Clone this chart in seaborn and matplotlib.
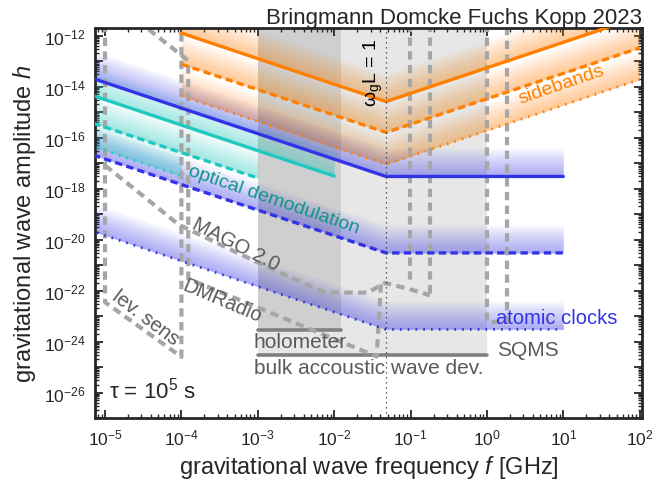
import numpy as np
import matplotlib
matplotlib.use("Agg")
import matplotlib.pyplot as plt
import matplotlib.ticker as mticker
import seaborn as sns

# === Data (f in GHz, h dimensionless) ===
f_c = 0.0477  # omega_g L = 1

# sidebands (orange): solid / dashed / dotted
side_f = [1e-4, f_c, 100]
side_solid = [1.26e-12, 2.6e-15, 5.5e-12]
side_dashed = [7.6e-14, 1.6e-16, 3.3e-13]
side_dotted = [4.3e-15, 8.9e-18, 1.9e-14]

# atomic clocks (blue)
clock_f = [5e-6, f_c, 10]
clock_solid = [2.9e-14, 3.0e-18, 3.0e-18]
clock_dashed = [2.9e-17, 3.0e-21, 3.0e-21]
clock_dotted = [2.9e-20, 3.0e-24, 3.0e-24]

# optical demodulation (cyan)
opt_solid_f = [5e-6, 1e-2]
opt_solid = [6.2e-15, 3.1e-18]
opt_dashed_f = [5e-6, 1e-3]
opt_dashed = [5.1e-16, 2.6e-18]
opt_dotted_f = [5e-6, 1e-4]
opt_dotted = [6.2e-17, 3.1e-18]

# other experiments (grey dashed)
lev_f = [1e-5, 1e-5, 1e-4, 1e-4]
lev_h = [1e-11, 3.5e-23, 2.5e-25, 1e-11]
dmr_f = [2.7e-5, 1.23e-4, 1.23e-4, 0.036, 0.041]
dmr_h = [3.8e-12, 1.05e-13, 2.9e-22, 2.6e-25, 1.9e-22]
mago_f = [1e-5, 1.1e-5, 9.3e-5, 1.26e-3, 7.6e-3, 0.0275, 0.046, 0.091, 0.18]
mago_h = [7.9e-18, 6.5e-18, 3.8e-20, 9.1e-22, 8.3e-23, 8.3e-23, 2.0e-22, 1.2e-22, 6.5e-23]
hf1_f = [0.098, 0.098]
hf1_h = [1e-11, 1.6e-22]
hf2_f = [0.18, 0.18]
hf2_h = [1e-11, 6.5e-23]
sqms_f = [1.0, 1.0, 1.82, 1.82]
sqms_h = [1e-11, 5.9e-24, 5.9e-24, 1e-11]

# holometer / bulk acoustic wave devices
holo_f = [1e-3, 0.0123]
holo_h = 2.9e-24
bulk_f = [1e-3, 1.0]
bulk_h = 2.9e-25

ylo, yhi = 2e-27, 2e-12
xlo, xhi = 7.4e-6, 1.07e2

# === Style ===
sns.set_style("ticks")
plt.rcParams['font.family'] = ['Liberation Sans', 'DejaVu Sans']
plt.rcParams['mathtext.fontset'] = 'custom'
plt.rcParams['mathtext.rm'] = 'Liberation Sans'
plt.rcParams['mathtext.it'] = 'Liberation Sans:italic'
plt.rcParams['mathtext.default'] = 'regular'

orange = '#ff7f00'
blue = '#3232e6'
cyan = '#1fc9c1'
teal = '#0f958a'
grey = '#a6a6a6'
gtext = '#5a5a5a'

fig = plt.figure(figsize=(6.53, 4.89), dpi=100)
ax = fig.add_axes([0.1455, 0.1431, 0.8376, 0.7976])
ax.set_xscale('log')
ax.set_yscale('log')


def shade(f, h, color, depth=1.1, n=12, alpha=0.04):
    f = np.asarray(f, dtype=float)
    h = np.asarray(h, dtype=float)
    for k in range(1, n + 1):
        ax.fill_between(f, h, h * 10 ** (depth * k / n), color=color,
                        alpha=alpha, lw=0, zorder=1)


def line(f, h, color, ls='-', lw=2.4, z=3):
    sns.lineplot(x=f, y=h, color=color, lw=lw, ls=ls, estimator=None,
                 sort=False, ax=ax, zorder=z)


# grey shaded regions
ax.fill_between(holo_f, holo_h, yhi * 10, color='#8c8c8c', alpha=0.28, lw=0, zorder=0)
ax.fill_between(bulk_f, bulk_h, yhi * 10, color='#a0a0a0', alpha=0.25, lw=0, zorder=0)
ax.plot(holo_f, [holo_h] * 2, color='#808080', lw=2.6, zorder=2)
ax.plot(bulk_f, [bulk_h] * 2, color='#808080', lw=2.6, zorder=2)

# grey dashed experiments
gd = (0, (2.0, 1.3))
for fx, hy in [(lev_f, lev_h), (dmr_f, dmr_h), (mago_f, mago_h),
               (hf1_f, hf1_h), (hf2_f, hf2_h), (sqms_f, sqms_h)]:
    line(fx, hy, grey, ls=gd, lw=3.0, z=2)

# shading bands
for h in (side_solid, side_dashed, side_dotted):
    shade(side_f, h, orange)
for h in (clock_solid, clock_dashed, clock_dotted):
    shade(clock_f, h, blue)
shade(opt_solid_f, opt_solid, cyan)
shade(opt_dashed_f, opt_dashed, cyan)
shade(opt_dotted_f, opt_dotted, cyan)

dash = (0, (2.2, 1.3))
dot = (0, (0.6, 2.2))
line(side_f, side_solid, orange)
line(side_f, side_dashed, orange, ls=dash)
line(side_f, side_dotted, orange, ls=dot, lw=2.0)
line(opt_solid_f, opt_solid, cyan)
line(opt_dashed_f, opt_dashed, cyan, ls=dash)
line(opt_dotted_f, opt_dotted, cyan, ls=dot, lw=2.0)
line(clock_f, clock_solid, blue)
line(clock_f, clock_dashed, blue, ls=dash)
line(clock_f, clock_dotted, blue, ls=dot, lw=2.0)

# omega_g L = 1
ax.axvline(f_c, color='#333333', lw=0.9, ls=(0, (1, 3)), zorder=4)

# labels
ax.text(10 ** 0.97, 10 ** -13.92, 'sidebands', color=orange, fontsize=14,
        rotation=19, ha='center', va='center', zorder=5)
ax.text(10 ** -2.79, 10 ** -18.42, 'optical demodulation', color=teal, fontsize=14,
        rotation=-19, ha='center', va='center', zorder=5)
ax.text(10 ** -3.29, 10 ** -20.15, 'MAGO 2.0', color=gtext, fontsize=14.5,
        rotation=-27, ha='center', va='center', zorder=5)
ax.text(10 ** -3.47, 10 ** -22.38, 'DMRadio', color=gtext, fontsize=14.5,
        rotation=-23, ha='center', va='center', zorder=5)
ax.text(10 ** -4.47, 10 ** -23.04, 'lev. sens', color=gtext, fontsize=14.5,
        rotation=-37, ha='center', va='center', zorder=5)
ax.text(10 ** -3.05, 10 ** -24.0, 'holometer', color=gtext, fontsize=15,
        ha='left', va='center', zorder=5)
ax.text(10 ** -3.05, 10 ** -25.0, 'bulk accoustic wave dev.', color=gtext, fontsize=15,
        ha='left', va='center', zorder=5)
ax.text(10 ** 0.13, 10 ** -24.31, 'SQMS', color=gtext, fontsize=15,
        ha='left', va='center', zorder=5)
ax.text(10 ** 0.12, 10 ** -23.04, 'atomic clocks', color=blue, fontsize=14.5,
        ha='left', va='center', zorder=5)
ax.text(10 ** -1.49, 10 ** -13.42, r'$\omega_g$L = 1', color='black', fontsize=14,
        rotation=90, ha='center', va='center', zorder=5)
ax.text(0.025, 0.04, r'$\tau$ = 10$^5$ s', transform=ax.transAxes, fontsize=16,
        ha='left', va='bottom', zorder=5)

ax.set_title('Bringmann Domcke Fuchs Kopp 2023', loc='right', fontsize=16, pad=2)
ax.set_xlabel('gravitational wave frequency $\\mathit{f}$ [GHz]', fontsize=17, labelpad=4)
ax.set_ylabel('gravitational wave amplitude $\\mathit{h}$', fontsize=17, labelpad=4)

ax.set_xlim(xlo, xhi)
ax.set_ylim(ylo, yhi)

# ticks
xt = [10.0 ** e for e in range(-5, 3)]
ax.set_xticks(xt)
ax.set_xticklabels([f'$10^{{{e}}}$' for e in range(-5, 3)], fontsize=12.5)
yt = [10.0 ** e for e in range(-27, -11)]
ax.set_yticks(yt)
ax.set_yticklabels([f'$10^{{{e}}}$' if e % 2 == 0 else '' for e in range(-27, -11)],
                   fontsize=12.5)
ax.xaxis.set_minor_locator(mticker.LogLocator(base=10, subs=np.arange(2, 10), numticks=40))
ax.yaxis.set_minor_locator(mticker.LogLocator(base=10, subs=np.arange(2, 10), numticks=40))
ax.xaxis.set_minor_formatter(mticker.NullFormatter())
ax.yaxis.set_minor_formatter(mticker.NullFormatter())
ax.tick_params(which='major', direction='in', length=6, width=1.3,
               top=True, right=True, pad=7)
ax.tick_params(which='minor', direction='in', length=3, width=1.0,
               top=True, right=True)
for s in ax.spines.values():
    s.set_linewidth(2)
    s.set_visible(True)

fig.savefig('out.png', dpi=100)
